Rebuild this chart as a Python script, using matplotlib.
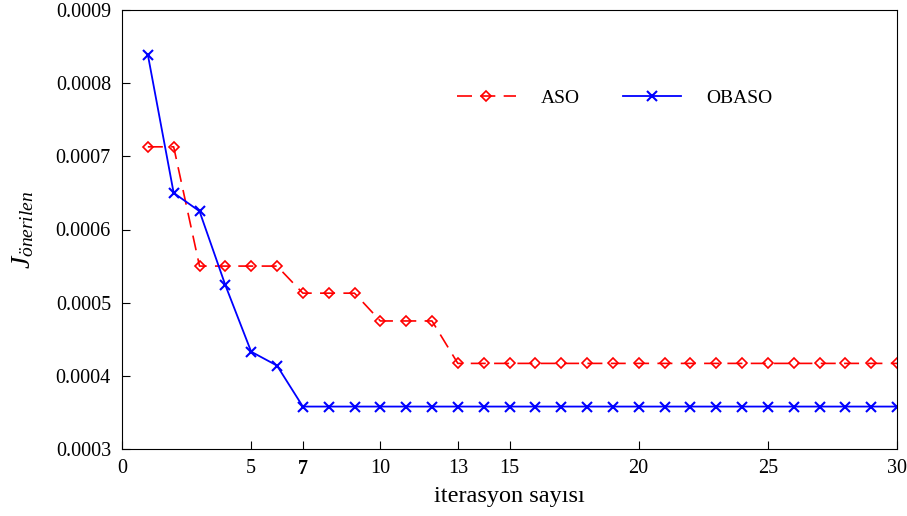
import matplotlib
matplotlib.use("Agg")
import matplotlib.pyplot as plt

iterations = list(range(1, 31))
aso = [0.000713, 0.000713, 0.000550, 0.000550, 0.000550, 0.000550,
       0.000513, 0.000513, 0.000513, 0.000475, 0.000475, 0.000475] + [0.000417] * 18
obaso = [0.000839, 0.000650, 0.000625, 0.000524, 0.000433, 0.000414] + [0.000358] * 24

xticks = [0, 5, 7, 10, 13, 15, 20, 25, 30]
yticks = [0.0003, 0.0004, 0.0005, 0.0006, 0.0007, 0.0008, 0.0009]

plt.rcParams["font.family"] = ["Liberation Serif", "DejaVu Serif"]
plt.rcParams["mathtext.fontset"] = "custom"
plt.rcParams["mathtext.rm"] = "Liberation Serif"
plt.rcParams["mathtext.it"] = "Liberation Serif:italic"

fig = plt.figure(figsize=(9.07, 5.16), dpi=100)
ax = fig.add_axes([122 / 907, 1 - 449 / 516, 775 / 907, 439 / 516])

ax.plot(iterations, aso, color="red", linestyle=(0, (9, 5)), linewidth=1.2,
        marker="D", markersize=5, markerfacecolor="none", markeredgewidth=1.2,
        label="ASO")
ax.plot(iterations, obaso, color="blue", linestyle="-", linewidth=1.3,
        marker="x", markersize=7, markeredgewidth=1.5, label="OBASO")

ax.set_xlim(0, 30)
ax.set_ylim(0.0003, 0.0009)
ax.set_xticks(xticks)
ax.set_yticks(yticks)
ax.set_yticklabels([f"{v:.4f}" for v in yticks])
ax.tick_params(direction="in", length=6, labelsize=14.5, top=False, right=False)
ax.tick_params(axis="y", pad=8)
ax.tick_params(axis="x", pad=7)
for lbl in ax.get_xticklabels():
    if lbl.get_text() == "7":
        lbl.set_fontweight("bold")

ax.set_xlabel("iterasyon sayısı", fontsize=17.5, labelpad=5)
ax.set_ylabel(r"$J_{önerilen}$", fontsize=20, labelpad=14)

ax.legend(loc="upper left", bbox_to_anchor=(0.41, 0.86), ncol=2, frameon=False,
          fontsize=14, handlelength=3.0, columnspacing=2.2, handletextpad=1.3)

fig.savefig("out.png", dpi=100)
